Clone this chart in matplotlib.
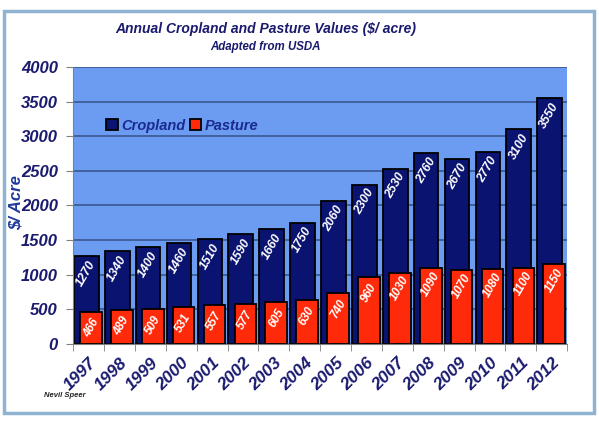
import matplotlib.pyplot as plt
from matplotlib.patches import Rectangle
import numpy as np

# data
years = ['1997', '1998', '1999', '2000', '2001', '2002', '2003', '2004',
         '2005', '2006', '2007', '2008', '2009', '2010', '2011', '2012']
cropland = [1270, 1340, 1400, 1460, 1510, 1590, 1660, 1750,
            2060, 2300, 2530, 2760, 2670, 2770, 3100, 3550]
pasture = [466, 489, 509, 531, 557, 577, 605, 630,
           740, 960, 1030, 1090, 1070, 1080, 1100, 1150]

navy = '#1A1A6E'
crop_col = '#0A1470'
past_col = '#FF2A0A'
bg_col = '#6B9CF2'

plt.rcParams['font.family'] = ['Liberation Sans', 'DejaVu Sans']

fig = plt.figure(figsize=(5.99, 4.21), dpi=100)
ax = fig.add_axes([0.122, 0.183, 0.825, 0.658])

# light frame round the whole figure
fig.patches.append(Rectangle((0.007, 0.02), 0.985, 0.955, transform=fig.transFigure,
                             fill=False, edgecolor='#8FB3D0', linewidth=2.5))

x = np.arange(len(years))
ax.set_facecolor(bg_col)
ax.bar(x - 0.07, cropland, width=0.8, color=crop_col, edgecolor='black',
       linewidth=1.3, label='Cropland', zorder=2)
ax.bar(x + 0.08, pasture, width=0.7, color=past_col, edgecolor='black',
       linewidth=1.3, label='Pasture', zorder=3)

for i in range(len(years)):
    ax.text(x[i] - 0.07, cropland[i] - 250, str(cropland[i]), rotation=60,
            ha='center', va='center', color='white', fontsize=8.8,
            fontweight='bold', fontstyle='italic', zorder=4)
    ax.text(x[i] + 0.08, pasture[i] - 230, str(pasture[i]), rotation=60,
            ha='center', va='center', color='white', fontsize=8.5,
            fontweight='bold', fontstyle='italic', zorder=4)

ax.set_xlim(-0.5, len(years) - 0.5)
ax.set_ylim(0, 4000)
ax.set_yticks(range(0, 4001, 500))
ax.yaxis.grid(True, color='#3D5C96', linewidth=1.3, zorder=1)
ax.set_axisbelow(True)

ax.set_xticks(x)
ax.set_xticklabels(years, rotation=45, ha='right', va='top',
                   rotation_mode='anchor', fontsize=12.5, fontweight='bold',
                   fontstyle='italic', color=navy)
ax.tick_params(axis='x', length=0, pad=8)
ax.set_xticks(np.arange(-0.5, len(years)), minor=True)
ax.tick_params(axis='x', which='minor', length=5, color='#808080')
ax.tick_params(axis='y', length=5, color='#808080', pad=6)
for lbl in ax.get_yticklabels():
    lbl.set_fontsize(12)
    lbl.set_fontweight('bold')
    lbl.set_fontstyle('italic')
    lbl.set_color(navy)

for side in ['top', 'right']:
    ax.spines[side].set_visible(False)
ax.spines['left'].set_color('#808080')
ax.spines['bottom'].set_color('#808080')

fig.text(0.027, 0.518, '$/ Acre', rotation=90, ha='center', va='center',
         fontsize=12, fontweight='bold', fontstyle='italic', color='#1F3A9A')

leg = ax.legend(loc='upper left', bbox_to_anchor=(0.04, 0.86), ncol=2,
                frameon=False, handlelength=0.8, handleheight=0.8,
                handletextpad=0.25, columnspacing=0.3,
                prop={'size': 10.5, 'weight': 'bold', 'style': 'italic'})
for t in leg.get_texts():
    t.set_color('#1A2A90')

fig.text(0.443, 0.93, 'Annual Cropland and Pasture Values ($/ acre)', ha='center',
         va='center', fontsize=10, fontweight='bold', fontstyle='italic', color=navy)
fig.text(0.443, 0.888, 'Adapted from USDA', ha='center', va='center', fontsize=8.3,
         fontweight='bold', fontstyle='italic', color=navy)
fig.text(0.073, 0.06, 'Nevil Speer', ha='left', va='center', fontsize=5.5,
         fontweight='bold', fontstyle='italic', color='#222222')

fig.savefig('out.png', dpi=100)
